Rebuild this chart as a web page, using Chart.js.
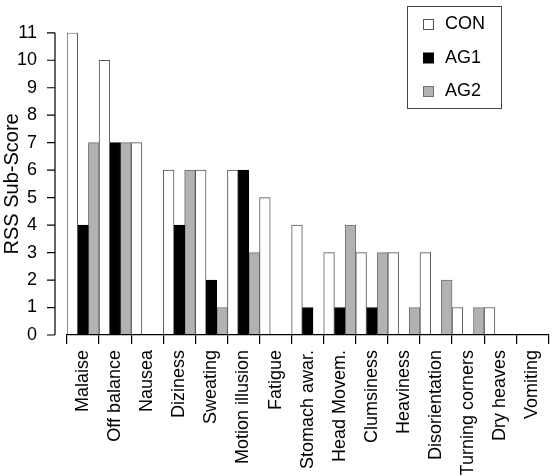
<!DOCTYPE html>
<html>
<head>
<meta charset="utf-8">
<script src="https://cdn.jsdelivr.net/npm/chart.js@4.4.0/dist/chart.umd.min.js"></script>
<style>
	html, body { margin: 0; padding: 0; background: #fff; }
	#wrap { width: 560px; height: 476px; }
</style>
</head>
<body>
<div id="wrap"><canvas id="chart" width="560" height="476"></canvas></div>
<script>
const categories = ['Malaise', 'Off balance', 'Nausea', 'Diziness', 'Sweating', 'Motion illusion', 'Fatigue',
	'Stomach awar.', 'Head Movem.', 'Clumsiness', 'Heaviness', 'Disorientation', 'Turning corners', 'Dry heaves', 'Vomiting'];
const conValues = [11, 10, 7, 6, 6, 6, 5, 4, 3, 3, 3, 3, 1, 1, 0];
const ag1Values = [4, 7, 0, 4, 2, 6, 0, 1, 1, 1, 0, 0, 0, 0, 0];
const ag2Values = [7, 7, 0, 6, 1, 3, 0, 0, 4, 3, 1, 2, 1, 0, 0];
const yTicks = [0, 1, 2, 3, 4, 5, 6, 7, 8, 9, 10, 11];

const FONT = 'Liberation Sans, Arial, Helvetica, sans-serif';

// y axis sits a little left of the plot, so draw it by hand
const detachedYAxis = {
	id: 'detachedYAxis',
	afterDraw(chart) {
		const ctx = chart.ctx;
		const y = chart.scales.y;
		const x = chart.chartArea.left - 12;
		ctx.save();
		ctx.strokeStyle = '#000';
		ctx.lineWidth = 1.2;
		ctx.beginPath();
		ctx.moveTo(x, y.getPixelForValue(0));
		ctx.lineTo(x, y.getPixelForValue(11));
		for (const t of yTicks) {
			const py = y.getPixelForValue(t);
			ctx.moveTo(x - 8, py);
			ctx.lineTo(x, py);
		}
		ctx.stroke();
		ctx.restore();
	}
};

const boxLegend = {
	id: 'boxLegend',
	afterDraw(chart) {
		const ctx = chart.ctx;
		const left = 407.5, top = 6.5, w = 94, h = 102;
		ctx.save();
		ctx.fillStyle = '#fff';
		ctx.fillRect(left, top, w, h);
		ctx.strokeStyle = '#444';
		ctx.lineWidth = 1;
		ctx.strokeRect(left, top, w, h);
		ctx.font = '18px ' + FONT;
		ctx.textBaseline = 'middle';
		let i = 0;
		for (const ds of chart.data.datasets) {
			const cy = 24.5 + i * 33.5;
			ctx.fillStyle = ds.backgroundColor;
			ctx.fillRect(423.5, cy - 5, 10, 10);
			ctx.strokeStyle = ds.borderColor;
			ctx.strokeRect(423.5, cy - 5, 10, 10);
			ctx.fillStyle = '#000';
			ctx.fillText(ds.label, 445, cy);
			i++;
		}
		ctx.restore();
	}
};

// no outline for empty bars
const barBorder = (c) => (c.raw === 0 ? 0 : 1);

const ctx = document.getElementById('chart');

new Chart(ctx.getContext('2d'), {
	type: 'bar',
	data: {
		labels: categories,
		datasets: [
			{ label: 'CON', data: conValues, backgroundColor: '#ffffff', borderColor: '#555555', borderWidth: barBorder },
			{ label: 'AG1', data: ag1Values, backgroundColor: '#000000', borderColor: '#000000', borderWidth: barBorder },
			{ label: 'AG2', data: ag2Values, backgroundColor: '#b2b2b2', borderColor: '#707070', borderWidth: barBorder }
		]
	},
	options: {
		responsive: false,
		animation: false,
		devicePixelRatio: 1,
		layout: { padding: { top: 8, right: 3, bottom: 0, left: 0 } },
		datasets: {
			bar: { categoryPercentage: 1.0, barPercentage: 1.0, borderSkipped: 'bottom' }
		},
		plugins: {
			legend: { display: false },
			tooltip: { enabled: false }
		},
		scales: {
			x: {
				grid: { display: true, drawOnChartArea: false, offset: true, tickLength: 9, color: '#000', lineWidth: 1.2, z: 1 },
				border: { display: true, color: '#000', width: 1.2, z: 1 },
				ticks: {
					autoSkip: false, minRotation: 90, maxRotation: 90, padding: 6,
					color: '#000', font: { family: FONT, size: 18 }
				},
				afterFit(scale) { scale.height = 141; }
			},
			y: {
				min: 0,
				max: 11,
				grid: { display: false },
				border: { display: false },
				ticks: {
					stepSize: 1, padding: 22, color: '#000',
					font: { family: FONT, size: 18 }
				},
				title: {
					display: true, text: 'RSS Sub-Score', color: '#000',
					font: { family: FONT, size: 20 }, padding: { top: 0, bottom: 0 }
				},
				afterFit(scale) { scale.width = 67; }
			}
		}
	},
	plugins: [detachedYAxis, boxLegend]
});
</script>
</body>
</html>
